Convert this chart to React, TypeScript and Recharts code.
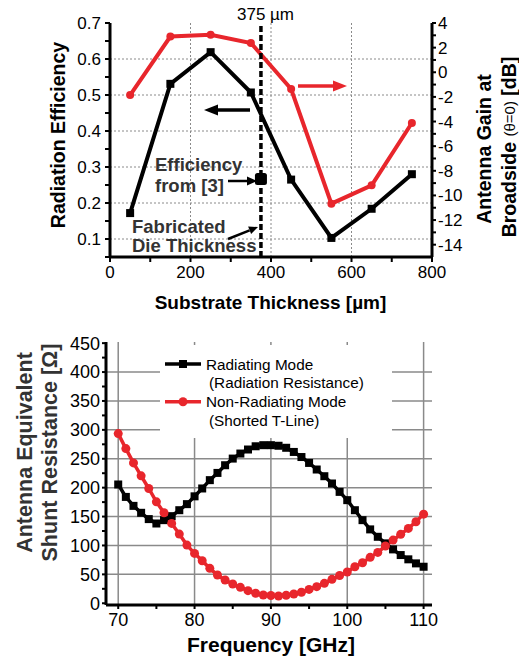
import React from 'react';
import {
  ComposedChart,
  LineChart,
  Line,
  XAxis,
  YAxis,
  CartesianGrid,
  ReferenceLine,
  Legend,
} from 'recharts';

// ---------- Top chart data ----------
const thickness = [50, 150, 250, 350, 450, 550, 650, 750];
const efficiency = [0.172, 0.531, 0.619, 0.507, 0.265, 0.103, 0.184, 0.28];
const gainDb = [-1.85, 2.9, 3.05, 2.38, -1.36, -10.67, -9.18, -4.12];
const fabricatedThickness = 375;
const refThickness = [375];
const refEfficiency = [0.267];

const thicknessTicks = [0, 100, 200, 300, 400, 500, 600, 700, 800];
const effTicks = [0.05, 0.1, 0.15, 0.2, 0.25, 0.3, 0.35, 0.4, 0.45, 0.5, 0.55, 0.6, 0.65, 0.7];
const gainTicks = [-14, -13, -12, -11, -10, -9, -8, -7, -6, -5, -4, -3, -2, -1, 0, 1, 2, 3, 4];
const effGrid = [0.1, 0.2, 0.3, 0.4, 0.5, 0.6];
const thicknessGrid = [200, 400, 600];

// ---------- Bottom chart data ----------
const frequency = [
  70, 71, 72, 73, 74, 75, 76, 77, 78, 79, 80, 81, 82, 83, 84, 85, 86, 87, 88, 89, 90,
  91, 92, 93, 94, 95, 96, 97, 98, 99, 100, 101, 102, 103, 104, 105, 106, 107, 108, 109, 110,
];
const radiating = [
  205.5, 184, 168.5, 156.5, 145.6, 138, 143.8, 150.7, 161, 171.5, 185, 198.6, 213, 225.5,
  238.8, 250.3, 259, 266, 271.6, 273.5, 273.5, 272.5, 269, 261.8, 253, 242.8, 231.4, 219.8,
  207.2, 192.7, 178.4, 161, 143.8, 127.8, 115, 103.6, 93.2, 83.4, 76, 69, 63.2,
];
const nonRadiating = [
  293.5, 267.6, 242.8, 220.4, 198.6, 175.5, 156.5, 138.1, 119.7, 100.7, 86.3, 73.6, 60.4,
  48.9, 40.2, 33.3, 27.6, 21.8, 17.3, 14.3, 13.5, 12.6, 13.8, 16, 19, 24, 28.7, 34.5, 41.4,
  48, 54, 63.2, 70.1, 79.4, 88, 99, 109.3, 119.2, 129.5, 141, 154.2,
];
const freqTicks = [70, 75, 80, 85, 90, 95, 100, 105, 110];
const resTicks = [0, 25, 50, 75, 100, 125, 150, 175, 200, 225, 250, 275, 300, 325, 350, 375, 400, 425, 450];
const resGrid = [50, 100, 150, 200, 250, 300, 350, 400];
const freqGrid = [70, 80, 90, 100, 110];
const seriesKeys = ['rad', 'nonrad'];
const seriesNames = ['Radiating Mode', 'Non-Radiating Mode'];
const seriesSubNames = ['(Radiation Resistance)', '(Shorted T-Line)'];

const topData = thickness.map((t, i) => ({ t, eff: efficiency[i], gain: gainDb[i] }));
const refData = refThickness.map((t, i) => ({ t, eff: refEfficiency[i] }));
const bottomData = frequency.map((f, i) => ({ f, rad: radiating[i], nonrad: nonRadiating[i] }));

const FONT = '"Liberation Sans", Arial, Helvetica, sans-serif';
const RED = '#e8262c';
const DARK = '#333333';
const seriesColors = ['#000', RED];

const squareDot = (size: number, color: string, rx = 0) => (props: any) => {
  const { cx, cy, index } = props;
  if (cx == null || cy == null) return <g key={`n${index}`} />;
  return (
    <rect
      key={`s${index}`}
      x={cx - size / 2}
      y={cy - size / 2}
      width={size}
      height={size}
      rx={rx}
      fill={color}
    />
  );
};

const axisLine = { stroke: '#000', strokeWidth: 3 };
const tickLine = { stroke: '#000', strokeWidth: 2 };

const BottomLegend = (props: any) => {
  const payload = props.payload || [];
  return (
    <div style={{ width: 232, height: 93, background: '#fff' }}>
      <svg width={232} height={93} style={{ display: 'block' }}>
        {seriesKeys.map((key, i) => {
          const entry = payload.find((p: any) => p.dataKey === key);
          const color = entry && entry.color ? entry.color : seriesColors[i];
          const label = entry && entry.value ? entry.value : seriesNames[i];
          const y = i === 0 ? 19 : 56.7;
          const base = i === 0 ? 24.5 : 62;
          return (
            <g key={key}>
              <line x1={5} x2={41} y1={y} y2={y} stroke={color} strokeWidth={3.5} />
              {i === 0 ? (
                <rect x={19} y={y - 4} width={8} height={8} fill={color} />
              ) : (
                <circle cx={23} cy={y} r={4.5} fill={color} />
              )}
              <text x={46} y={base} fontFamily={FONT} fontSize={15.3} fill="#000">
                {label}
              </text>
              <text x={49} y={base + 18.5} fontFamily={FONT} fontSize={15.3} fill="#000">
                {seriesSubNames[i]}
              </text>
            </g>
          );
        })}
      </svg>
    </div>
  );
};

export default function App() {
  const effFmt = (v: number) =>
    Math.abs(v * 10 - Math.round(v * 10)) < 1e-6 ? v.toFixed(1) : '';
  const gainFmt = (v: number) => (Math.abs(v) % 2 === 0 ? String(v) : '');
  const thickFmt = (v: number) => (v % 200 === 0 ? String(v) : '');
  const freqFmt = (v: number) => (v % 10 === 0 ? String(v) : '');
  const resFmt = (v: number) => (v % 50 === 0 ? String(v) : '');

  const tickStyle17 = { fill: '#000', fontSize: 17, fontFamily: FONT };
  const tickStyle18 = { fill: '#000', fontSize: 18, fontFamily: FONT };

  return (
    <div style={{ position: 'absolute', left: 0, top: 0, width: 519, height: 662, background: '#fff' }}>
      <div style={{ position: 'absolute', left: 0, top: 0 }}>
        <ComposedChart
          width={519}
          height={320}
          data={topData}
          margin={{ top: 23, right: 27, bottom: 33, left: 50 }}
        >
          <CartesianGrid
            xAxisId="x"
            yAxisId="eff"
            horizontalValues={effGrid}
            verticalValues={thicknessGrid}
            stroke="#8a8a8a"
            strokeDasharray="2 2"
            strokeWidth={1}
          />
          <XAxis
            xAxisId="x"
            dataKey="t"
            type="number"
            domain={[0, 800]}
            ticks={thicknessTicks}
            interval={0}
            tickFormatter={thickFmt}
            height={30}
            axisLine={axisLine}
            tickLine={tickLine}
            tickSize={5}
            tickMargin={4}
            tick={tickStyle17}
            allowDataOverflow
          />
          <XAxis
            xAxisId="xtop"
            dataKey="t"
            orientation="top"
            type="number"
            domain={[0, 800]}
            ticks={thicknessTicks}
            interval={0}
            height={0}
            tick={false}
            axisLine={axisLine}
            tickLine={tickLine}
            tickSize={4}
            allowDataOverflow
          />
          <YAxis
            yAxisId="eff"
            type="number"
            domain={[0.05, 0.7]}
            ticks={effTicks}
            interval={0}
            tickFormatter={effFmt}
            width={60}
            axisLine={axisLine}
            tickLine={tickLine}
            tickSize={5}
            tickMargin={4}
            tick={tickStyle17}
            allowDataOverflow
          />
          <YAxis
            yAxisId="gain"
            orientation="right"
            type="number"
            domain={[-15, 4]}
            ticks={gainTicks}
            interval={0}
            tickFormatter={gainFmt}
            width={60}
            axisLine={axisLine}
            tickLine={tickLine}
            tickSize={4}
            tickMargin={2}
            tick={tickStyle17}
            allowDataOverflow
          />
          <Line
            xAxisId="x"
            yAxisId="gain"
            type="linear"
            dataKey="gain"
            stroke={RED}
            strokeWidth={4}
            dot={{ r: 4, fill: RED, stroke: RED, strokeWidth: 0 }}
            isAnimationActive={false}
          />
          <Line
            xAxisId="x"
            yAxisId="eff"
            type="linear"
            dataKey="eff"
            stroke="#000"
            strokeWidth={4}
            dot={squareDot(8, '#000')}
            isAnimationActive={false}
          />
          <ReferenceLine
            xAxisId="x"
            yAxisId="eff"
            x={fabricatedThickness}
            stroke="#000"
            strokeWidth={3.5}
            strokeDasharray="6 3"
          />
          <Line
            xAxisId="x"
            yAxisId="eff"
            data={refData}
            type="linear"
            dataKey="eff"
            stroke="none"
            dot={squareDot(12, '#000', 2.5)}
            isAnimationActive={false}
          />
        </ComposedChart>
      </div>

      <div style={{ position: 'absolute', left: 0, top: 320 }}>
        <LineChart
          width={519}
          height={342}
          data={bottomData}
          margin={{ top: 22, right: 87, bottom: 27, left: 50 }}
        >
          <CartesianGrid
            xAxisId="f"
            yAxisId="r"
            horizontalValues={resGrid}
            verticalValues={freqGrid}
            stroke="#8a8a8a"
            strokeWidth={1.5}
          />
          <XAxis
            xAxisId="f"
            dataKey="f"
            type="number"
            domain={[68.4, 111.1]}
            ticks={freqTicks}
            interval={0}
            tickFormatter={freqFmt}
            height={30}
            axisLine={axisLine}
            tickLine={tickLine}
            tickSize={4}
            tickMargin={4}
            tick={tickStyle18}
            allowDataOverflow
          />
          <XAxis
            xAxisId="ftop"
            dataKey="f"
            orientation="top"
            type="number"
            domain={[68.4, 111.1]}
            ticks={freqTicks}
            interval={0}
            height={0}
            tick={false}
            axisLine={axisLine}
            tickLine={tickLine}
            tickSize={4}
            allowDataOverflow
          />
          <YAxis
            yAxisId="r"
            type="number"
            domain={[-3, 452]}
            ticks={resTicks}
            interval={0}
            tickFormatter={resFmt}
            width={56}
            axisLine={axisLine}
            tickLine={tickLine}
            tickSize={4}
            tickMargin={2}
            tick={tickStyle18}
            allowDataOverflow
          />
          <YAxis
            yAxisId="rr"
            orientation="right"
            type="number"
            domain={[-3, 452]}
            ticks={resTicks}
            interval={0}
            width={0}
            tick={false}
            axisLine={axisLine}
            tickLine={tickLine}
            tickSize={4}
            allowDataOverflow
          />
          <Legend
            layout="horizontal"
            verticalAlign="middle"
            align="center"
            content={<BottomLegend />}
            wrapperStyle={{ position: 'absolute', left: 160, top: 25, width: 232, height: 93 }}
          />
          <Line
            xAxisId="f"
            yAxisId="r"
            type="linear"
            dataKey="rad"
            name={seriesNames[0]}
            stroke="#000"
            strokeWidth={3.5}
            dot={squareDot(8, '#000')}
            isAnimationActive={false}
          />
          <Line
            xAxisId="f"
            yAxisId="r"
            type="linear"
            dataKey="nonrad"
            name={seriesNames[1]}
            stroke={RED}
            strokeWidth={3.5}
            dot={{ r: 4.5, fill: RED, stroke: RED, strokeWidth: 0 }}
            isAnimationActive={false}
          />
        </LineChart>
      </div>

      <svg
        width={519}
        height={662}
        style={{ position: 'absolute', left: 0, top: 0, pointerEvents: 'none' }}
      >
        {/* Top chart titles */}
        <text x={265.5} y={20} textAnchor="middle" fontFamily={FONT} fontSize={17} fill="#000">
          375 µm
        </text>
        <text
          transform="translate(57.5,135) rotate(-90)"
          textAnchor="middle"
          dominantBaseline="central"
          fontFamily={FONT}
          fontSize={19.5}
          fontWeight="bold"
          fill="#000"
        >
          Radiation Efficiency
        </text>
        <text
          transform="translate(483.5,149) rotate(-90)"
          textAnchor="middle"
          dominantBaseline="central"
          fontFamily={FONT}
          fontSize={19.5}
          fontWeight="bold"
          fill="#000"
        >
          Antenna Gain at
        </text>
        <text
          transform="translate(509,147) rotate(-90)"
          textAnchor="middle"
          dominantBaseline="central"
          fontFamily={FONT}
          fontSize={19.5}
          fontWeight="bold"
          fill="#000"
        >
          Broadside{' '}
          <tspan fontWeight="normal" fontSize={15}>
            (θ=0)
          </tspan>{' '}
          [dB]
        </text>
        <text
          x={270.5}
          y={309}
          textAnchor="middle"
          fontFamily={FONT}
          fontSize={19}
          fontWeight="bold"
          fill="#000"
        >
          Substrate Thickness [µm]
        </text>

        {/* Top annotations */}
        <line x1={250} y1={110} x2={215} y2={110} stroke="#000" strokeWidth={3.5} />
        <polygon points="204,110 218,104.5 218,115.5" fill="#000" />
        <line x1={298} y1={86} x2={335} y2={86} stroke={RED} strokeWidth={3.5} />
        <polygon points="347,86 333,80.5 333,91.5" fill={RED} />

        <text x={155} y={171} fontFamily={FONT} fontSize={18.5} fontWeight="bold" fill={DARK}>
          Efficiency
        </text>
        <text x={155} y={192} fontFamily={FONT} fontSize={18.5} fontWeight="bold" fill={DARK}>
          from [3]
        </text>
        <line x1={228} y1={181} x2={249} y2={181} stroke="#000" strokeWidth={2.5} />
        <polygon points="257,181 247,176.5 247,185.5" fill="#000" />

        <text x={132} y={233} fontFamily={FONT} fontSize={18.5} fontWeight="bold" fill={DARK}>
          Fabricated
        </text>
        <text x={132} y={252} fontFamily={FONT} fontSize={18.5} fontWeight="bold" fill={DARK}>
          Die Thickness
        </text>
        <line x1={228} y1={239} x2={249.6} y2={230.3} stroke="#000" strokeWidth={2.5} />
        <polygon points="258,227 251.1,234 248.1,226.6" fill="#000" />

        {/* Bottom chart titles */}
        <text
          transform="translate(24.5,452.5) rotate(-90)"
          textAnchor="middle"
          dominantBaseline="central"
          fontFamily={FONT}
          fontSize={21.5}
          fontWeight="bold"
          fill={DARK}
        >
          Antenna Equivalent
        </text>
        <text
          transform="translate(50,452.5) rotate(-90)"
          textAnchor="middle"
          dominantBaseline="central"
          fontFamily={FONT}
          fontSize={21.5}
          fontWeight="bold"
          fill={DARK}
        >
          Shunt Resistance [Ω]
        </text>
        <text
          x={271}
          y={652}
          textAnchor="middle"
          fontFamily={FONT}
          fontSize={21}
          fontWeight="bold"
          fill="#000"
        >
          Frequency [GHz]
        </text>
      </svg>
    </div>
  );
}
